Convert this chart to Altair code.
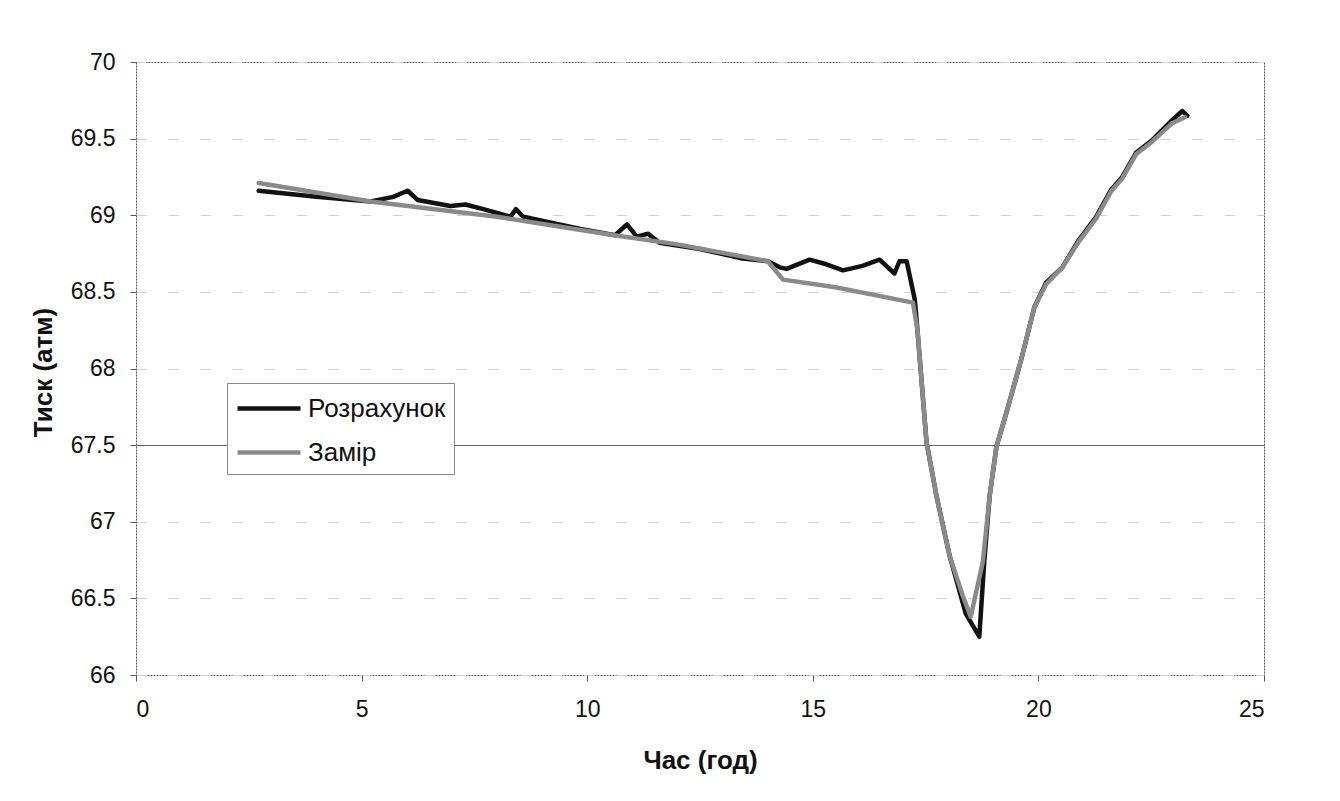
import altair as alt
import pandas as pd

# Розрахунок (calculated)
calc_x = [2.72, 4.0, 5.2, 5.7, 6.02, 6.24, 6.97, 7.3, 7.7, 8.3, 8.42, 8.58, 9.85,
          10.62, 10.88, 11.1, 11.35, 11.6, 12.5, 13.4, 14.0, 14.27, 14.42, 14.93,
          15.3, 15.67, 16.1, 16.48, 16.81, 16.92, 17.08, 17.26, 17.32, 17.52, 17.74,
          18.03, 18.39, 18.69, 18.8, 18.92, 19.07, 19.29, 19.62, 19.91, 20.17, 20.53,
          20.9, 21.28, 21.62, 21.86, 22.17, 22.52, 22.96, 23.19, 23.3]
calc_y = [69.16, 69.12, 69.09, 69.12, 69.16, 69.10, 69.06, 69.07, 69.04, 68.99, 69.04,
          68.99, 68.91, 68.87, 68.94, 68.86, 68.88, 68.82, 68.78, 68.72, 68.70, 68.66,
          68.65, 68.71, 68.68, 68.64, 68.67, 68.71, 68.62, 68.70, 68.70, 68.45, 68.25,
          67.52, 67.17, 66.78, 66.40, 66.25, 66.74, 67.17, 67.49, 67.71, 68.06, 68.40,
          68.56, 68.66, 68.84, 68.99, 69.17, 69.25, 69.41, 69.49, 69.62, 69.68, 69.65]

# Замір (measured)
meas_x = [2.72, 5.2, 8.0, 10.6, 12.0, 14.0, 14.34, 15.5, 17.22, 17.32, 17.52, 17.74,
          18.03, 18.32, 18.5, 18.77, 18.92, 19.07, 19.29, 19.62, 19.91, 20.17, 20.53,
          20.9, 21.28, 21.62, 21.86, 22.17, 22.52, 22.96, 23.25]
meas_y = [69.21, 69.09, 68.99, 68.87, 68.81, 68.70, 68.58, 68.53, 68.43, 68.25, 67.52,
          67.17, 66.78, 66.52, 66.38, 66.74, 67.17, 67.49, 67.71, 68.06, 68.40, 68.55,
          68.66, 68.83, 68.98, 69.16, 69.24, 69.40, 69.48, 69.60, 69.64]

series_names = ["Розрахунок", "Замір"]
series_colors = ["#111111", "#8a8a8a"]
x_ticks = [0, 5, 10, 15, 20, 25]
y_ticks = [66, 66.5, 67, 67.5, 68, 68.5, 69, 69.5, 70]

df_calc = pd.DataFrame({"x": calc_x, "y": calc_y, "s": series_names[0]})
df_meas = pd.DataFrame({"x": meas_x, "y": meas_y, "s": series_names[1]})

FONT = "Liberation Sans"

xenc = alt.X("x:Q", scale=alt.Scale(domain=[0, 25], nice=False),
             axis=alt.Axis(values=x_ticks, format="d", title="Час (год)",
                           grid=False, domain=False, tickSize=6, tickColor="#555",
                           labelPadding=17, labelFontSize=23, labelColor="#111",
                           labelFont=FONT, titleFont=FONT, titleFontSize=26,
                           titleFontWeight="bold", titleColor="#111",
                           titleX=564, titleY=85, titleBaseline="middle"))
yenc = alt.Y("y:Q", scale=alt.Scale(domain=[66, 70], nice=False, zero=False),
             axis=alt.Axis(values=y_ticks, format=".1~f", title="Тиск (атм)",
                           domain=False, tickSize=6, tickColor="#555",
                           labelPadding=15, labelFontSize=23, labelColor="#111",
                           labelFont=FONT, titleFont=FONT, titleFontSize=26,
                           titleFontWeight="bold", titleColor="#111",
                           titleX=-93, titleY=310, titleAngle=270,
                           titleBaseline="middle", titleAlign="center",
                           grid=True,
                           gridColor={"condition": {"test": "datum.value === 67.5", "value": "#666666"}, "value": "#d0d0d0"},
                           gridDash={"condition": {"test": "datum.value === 67.5", "value": []}, "value": [10, 22]}))
color = alt.Color("s:N", scale=alt.Scale(domain=series_names, range=series_colors),
                  legend=alt.Legend(title=None, orient="none", legendX=91, legendY=321,
                                    symbolType="M-1,0H3.2", symbolSize=900,
                                    symbolStrokeWidth=4.5, labelFont=FONT,
                                    labelFontSize=26, labelColor="#111",
                                    labelOffset=38, rowPadding=13,
                                    padding=8, strokeColor="#888",
                                    fillColor="white", labelLimit=300))

line_calc = alt.Chart(df_calc).mark_line(strokeWidth=4.5, strokeCap="round",
                                         strokeJoin="round").encode(x=xenc, y=yenc, color=color)
line_meas = alt.Chart(df_meas).mark_line(strokeWidth=4.5, strokeCap="round",
                                         strokeJoin="round").encode(x=xenc, y=yenc, color=color)

chart = alt.layer(line_calc, line_meas).properties(
    width=1128, height=613,
    autosize=alt.AutoSizeParams(type="none"),
    padding={"left": 136, "top": 62, "right": 76, "bottom": 126},
    background="white",
).configure_view(stroke="#555", strokeDash=[2, 1], strokeWidth=1)

chart.save("out.html", embed_options={"renderer": "svg", "actions": False})
